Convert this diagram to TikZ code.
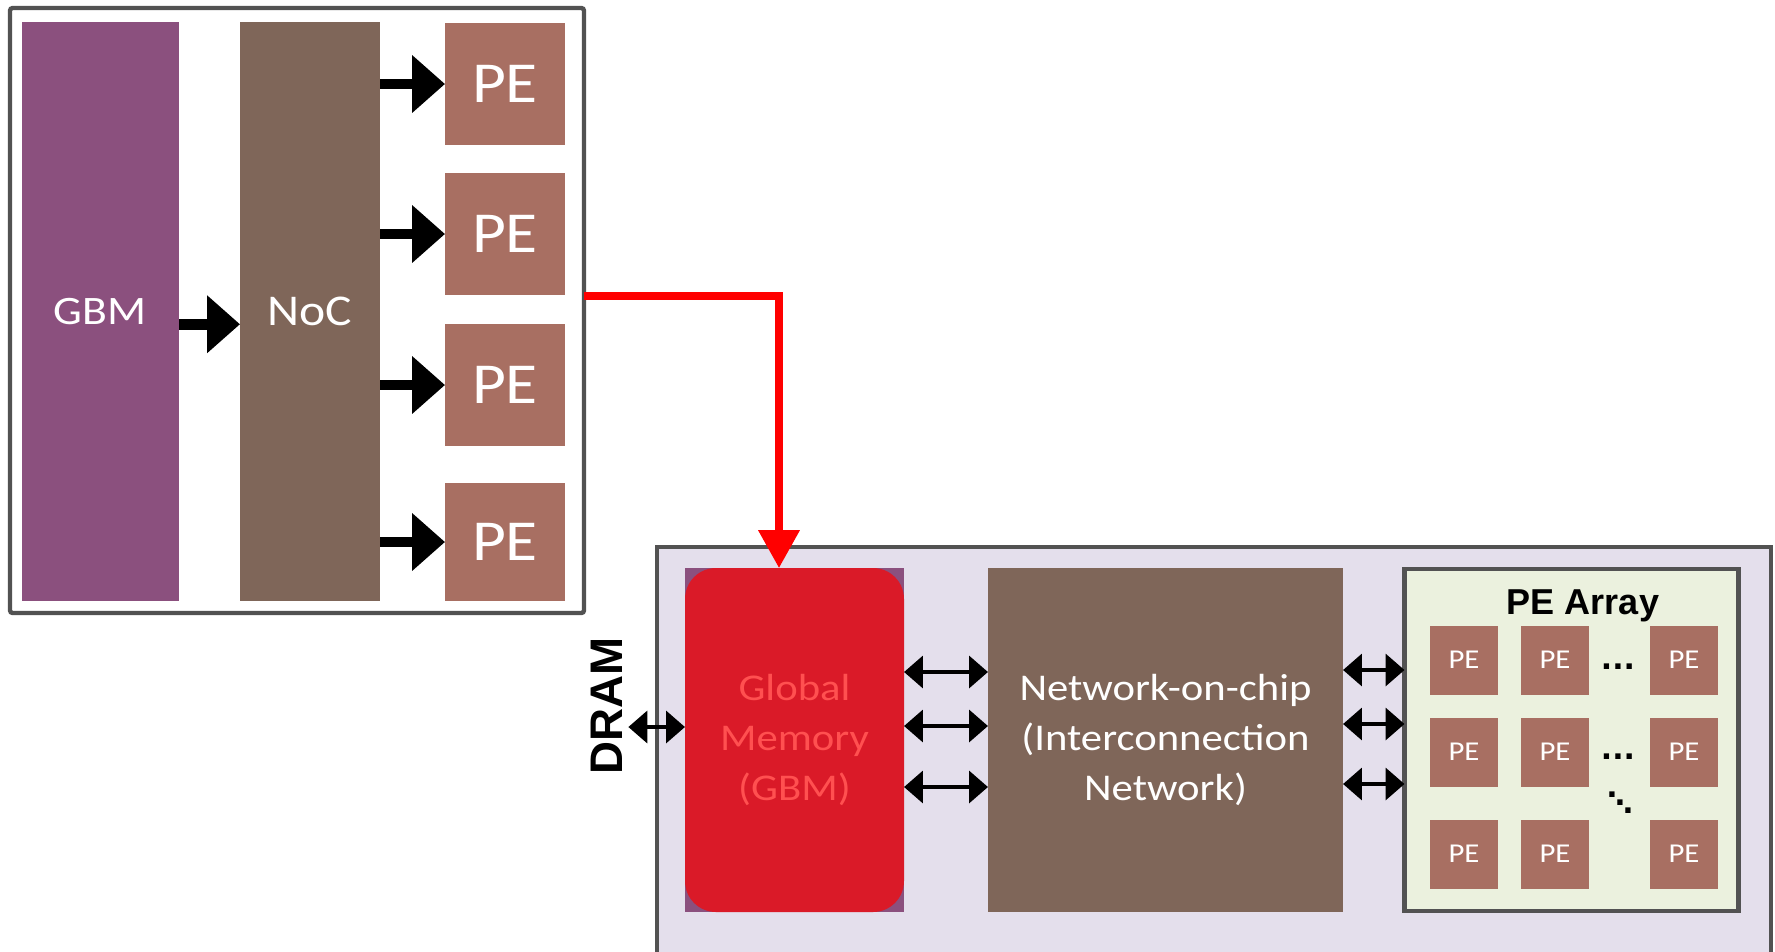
\documentclass[tikz,border=0pt]{standalone}
\usepackage{fontspec}
\setmainfont{Carlito}[FakeStretch=1.13]
\newfontfamily\arialfont{Liberation Sans}
\newfontfamily\dotsfont{DejaVu Sans}
\usetikzlibrary{arrows.meta, positioning}
\definecolor{gbmpurple}{RGB}{139, 80, 126}
\definecolor{nocbrown}{RGB}{127, 102, 89}
\definecolor{pebrown}{RGB}{168, 111, 98}
\definecolor{chipfill}{RGB}{228, 223, 236}
\definecolor{arrayfill}{RGB}{235, 241, 222}
\definecolor{gmred}{RGB}{218, 26, 40}
\definecolor{gmtext}{RGB}{255, 80, 80}
\definecolor{framegray}{RGB}{82, 82, 82}
\newlength{\pxu}\setlength{\pxu}{0.02cm}
\begin{document}
\begin{tikzpicture}[x=0.02cm, y=-0.02cm,
          blk/.style={inner sep=0, outer sep=0, text=white},
          pebig/.style={blk, fill=pebrown, minimum width=120\pxu,
                        font=\fontsize{33}{36}\selectfont},
          pesmall/.style={blk, fill=pebrown, minimum width=68\pxu,
                          minimum height=69\pxu, font=\fontsize{15.5}{18}\selectfont},
          dotsty/.style={inner sep=0, font=\dotsfont\bfseries\fontsize{17}{20}\selectfont},
          fatarrow/.style={-{Triangle[length=18.7pt,width=31.7pt]}, line width=6.2pt},
          duplex/.style={{Triangle[length=10.8pt,width=18pt]}-{Triangle[length=10.8pt,width=18pt]},
                         line width=2.8pt}]
        \useasboundingbox (0,0) rectangle (1775,951);
        % simplified view
        \node[draw=framegray, line width=2.5pt, fill=white, rounded corners=1.5pt,
              inner sep=0, outer sep=0, minimum width=574\pxu, minimum height=605\pxu]
          (topbox) at (297,310.5) {};
        \node[blk, fill=gbmpurple, minimum width=157.5\pxu, minimum height=579.5\pxu,
              font=\fontsize{23}{26}\selectfont] (gbm) at (100.25,311.25) {GBM};
        \node[blk, fill=nocbrown, minimum width=140\pxu, minimum height=579.5\pxu,
              font=\fontsize{25}{28}\selectfont] (noc) at (310,311.25) {NoC};
        \draw[fatarrow] ([yshift=-13\pxu]gbm.east) -- ([yshift=-13\pxu]noc.west);
        \foreach \i/\y/\h in {1/84/122, 2/234/122, 3/385/122, 4/542/118} {
          \node[pebig, minimum height=\h\pxu] (pe\i) at (505,\y) {PE};
          \draw[fatarrow] (noc.east |- pe\i) -- (pe\i.west);
        }
        % accelerator
        \node[draw=framegray, line width=2.8pt, fill=chipfill, inner sep=0, outer sep=0,
              minimum width=1114\pxu, minimum height=433\pxu] (chip) at (1214,763.5) {};
        \node[blk, fill=gbmpurple, minimum width=219\pxu, minimum height=344\pxu]
          (gmbg) at (794.5,740) {};
        \node[blk, fill=gmred, rounded corners=0.62cm, text=gmtext, align=center,
              minimum width=219\pxu, minimum height=344\pxu,
              font=\fontsize{21.5}{28.3}\selectfont] (gm) at (794.5,740)
          {Global\\Memory\\(GBM)};
        \node[blk, fill=nocbrown, align=center, minimum width=355\pxu, minimum height=344\pxu,
              font=\fontsize{21.5}{28.3}\selectfont] (bignoc) at (1165.5,740)
          {Network-on-chip\\(Interconnection\\Network)};
        \node[draw=framegray, line width=2.8pt, fill=arrayfill, inner sep=0, outer sep=0,
              minimum width=334\pxu, minimum height=342\pxu] (pearray) at (1571.5,740) {};
        \node[anchor=base, inner sep=0, font=\arialfont\bfseries\fontsize{20.5}{24}\selectfont]
          (title) at (1583,614) {PE Array};
        \foreach \c/\x in {1/1464, 2/1555, 3/1684}
          \foreach \r/\y in {1/660, 2/752, 3/854}
            \node[pesmall] (cell-\r-\c) at (\x,\y) {PE};
        \node[dotsty] (dots1) at (1618,667) {...};
        \node[dotsty] (dots2) at (1618,757) {...};
        \foreach \k/\x/\y in {1/1612/795, 2/1620/803, 3/1628/811}
          \node[dotsty] (ddot\k) at (\x,\y) {.};
        \foreach \y in {672, 726, 787}
          \draw[duplex] (gm.east |- 0,\y) -- (bignoc.west |- 0,\y);
        \foreach \y in {670, 724, 784}
          \draw[duplex] (bignoc.east |- 0,\y) -- (pearray.west |- 0,\y);
        \node[rotate=90, inner sep=3pt, font=\arialfont\bfseries\fontsize{26}{30}\selectfont]
          (dram) at (607,706) {DRAM};
        \draw[duplex] (dram.south |- 0,727) -- (gm.west |- 0,727);
        \draw[-{Triangle[length=21.5pt,width=22.7pt]}, line width=4pt, red]
          ([yshift=14.5\pxu]topbox.east) -| ([xshift=-15.5\pxu]gm.north);
      \end{tikzpicture}
\end{document}
